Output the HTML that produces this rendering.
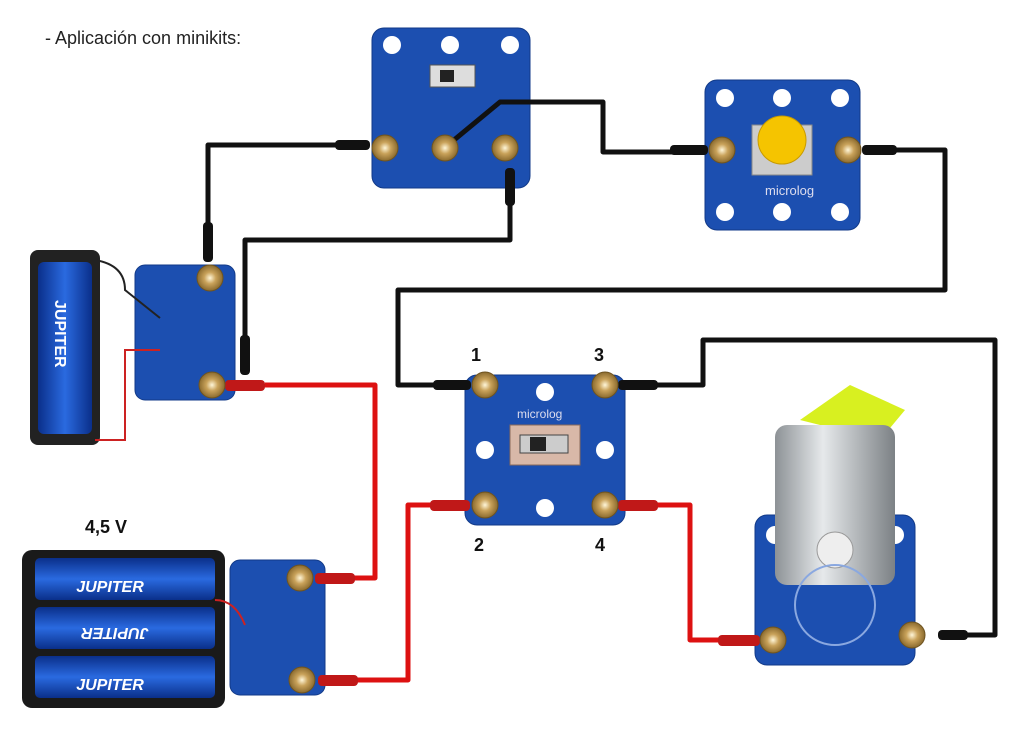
<!DOCTYPE html>
<html><head><meta charset="utf-8"><style>
body{margin:0;background:#fff;width:1024px;height:728px;overflow:hidden;font-family:"Liberation Sans",sans-serif}
</style></head><body>
<svg width="1024" height="728" viewBox="0 0 1024 728" xmlns="http://www.w3.org/2000/svg">
<defs>
<radialGradient id="gold" cx="50%" cy="50%" r="50%"><stop offset="0" stop-color="#fff6d8"/><stop offset="0.45" stop-color="#c9a25a"/><stop offset="1" stop-color="#8a6a2e"/></radialGradient>
<linearGradient id="silver" x1="0" x2="1"><stop offset="0" stop-color="#8d9296"/><stop offset="0.4" stop-color="#e6e9eb"/><stop offset="1" stop-color="#7c8185"/></linearGradient>
<linearGradient id="cell" x1="0" x2="0" y1="0" y2="1"><stop offset="0" stop-color="#0a2f8a"/><stop offset="0.5" stop-color="#2a6ae0"/><stop offset="1" stop-color="#0a2f8a"/></linearGradient>
<linearGradient id="cellv" x1="0" x2="1"><stop offset="0" stop-color="#0a2f8a"/><stop offset="0.5" stop-color="#2a6ae0"/><stop offset="1" stop-color="#0a2f8a"/></linearGradient>
</defs>
<text x="45" y="44" font-size="18" fill="#222">- Aplicación con minikits:</text>
<text x="85" y="533" font-size="18" font-weight="bold" fill="#111">4,5 V</text>
<g font-size="18" font-weight="bold" fill="#111">
<text x="471" y="361">1</text><text x="594" y="361">3</text><text x="474" y="551">2</text><text x="595" y="551">4</text></g>

<!-- boards -->
<g fill="#1c4fb0" stroke="#123a88" stroke-width="1">
<rect x="372" y="28" width="158" height="160" rx="12"/>
<rect x="705" y="80" width="155" height="150" rx="12"/>
<rect x="135" y="265" width="100" height="135" rx="10"/>
<rect x="465" y="375" width="160" height="150" rx="12"/>
<rect x="230" y="560" width="95" height="135" rx="10"/>
<rect x="755" y="515" width="160" height="150" rx="12"/>
</g>
<!-- holes -->
<g fill="#fff">
<circle cx="392" cy="45" r="9"/><circle cx="450" cy="45" r="9"/><circle cx="510" cy="45" r="9"/>
<circle cx="725" cy="98" r="9"/><circle cx="782" cy="98" r="9"/><circle cx="840" cy="98" r="9"/>
<circle cx="725" cy="212" r="9"/><circle cx="782" cy="212" r="9"/><circle cx="840" cy="212" r="9"/>
<circle cx="545" cy="392" r="9"/><circle cx="485" cy="450" r="9"/><circle cx="605" cy="450" r="9"/><circle cx="545" cy="508" r="9"/>
<circle cx="775" cy="535" r="9"/><circle cx="895" cy="535" r="9"/>
</g>
<!-- switch bodies -->
<rect x="430" y="65" width="45" height="22" fill="#ddd" stroke="#555"/><rect x="440" y="70" width="14" height="12" fill="#222"/>
<rect x="510" y="425" width="70" height="40" fill="#d8b8a8" stroke="#8a6a5a"/><rect x="520" y="435" width="48" height="18" fill="#ccc" stroke="#444"/><rect x="530" y="437" width="16" height="14" fill="#222"/>
<!-- button -->
<rect x="752" y="125" width="60" height="50" fill="#ccc" stroke="#888"/><circle cx="782" cy="140" r="24" fill="#f5c400" stroke="#c79a00"/>
<text x="765" y="195" font-size="13" fill="#dde">microlog</text>
<text x="517" y="418" font-size="12" fill="#dde">microlog</text>
<!-- batteries -->
<rect x="30" y="250" width="70" height="195" rx="8" fill="#222"/>
<rect x="38" y="262" width="54" height="172" rx="6" fill="url(#cellv)"/>
<text x="55" y="300" font-size="16" font-weight="bold" fill="#fff" transform="rotate(90 55 300)">JUPITER</text>
<path d="M95 260 Q125 265 125 290 L160 318" fill="none" stroke="#222" stroke-width="2"/>
<path d="M95 440 L125 440 L125 350 L160 350" fill="none" stroke="#c22" stroke-width="2"/>
<rect x="22" y="550" width="203" height="158" rx="10" fill="#1a1a1a"/>
<rect x="35" y="558" width="180" height="42" rx="5" fill="url(#cell)"/>
<rect x="35" y="607" width="180" height="42" rx="5" fill="url(#cell)"/>
<rect x="35" y="656" width="180" height="42" rx="5" fill="url(#cell)"/>
<g font-size="16" font-weight="bold" font-style="italic" fill="#fff" text-anchor="middle"><text x="110" y="592">JUPITER</text><text x="110" y="690">JUPITER</text><text x="115" y="640" transform="rotate(180 115 634)">JUPITER</text></g>
<path d="M215 600 Q235 600 245 625" fill="none" stroke="#c22" stroke-width="2"/>
<!-- motor -->
<path d="M800 420 L850 385 L905 410 L880 440 L840 430 Z" fill="#d8f020"/>
<rect x="775" y="425" width="120" height="160" rx="12" fill="url(#silver)"/>
<circle cx="835" cy="550" r="18" fill="#eee" stroke="#999"/>
<circle cx="835" cy="605" r="40" fill="none" stroke="#8aa8e0" stroke-width="2"/>
<!-- wires -->
<g fill="none" stroke-width="5" stroke-linejoin="round">
<path d="M340 145 H208 V235" stroke="#111"/>
<path d="M510 190 V240 H245 V345" stroke="#111"/>
<path d="M448 145 L500 102 H603 V152 H690" stroke="#111"/>
<path d="M880 150 H945 V290 H398 V385 H445" stroke="#111"/>
<path d="M655 385 H703 V340 H995 V635 H955" stroke="#111"/>
<path d="M265 385 H375 V578 H330" stroke="#d11"/>
<path d="M340 680 H408 V505 H445" stroke="#d11"/>
<path d="M655 505 H690 V640 H730" stroke="#d11"/>
</g>
<!-- plugs -->
<g fill="#111">
<rect x="335" y="140" width="35" height="10" rx="4"/><rect x="203" y="222" width="10" height="40" rx="4"/>
<rect x="505" y="168" width="10" height="38" rx="4"/><rect x="240" y="335" width="10" height="40" rx="4"/>
<rect x="670" y="145" width="38" height="10" rx="4"/><rect x="862" y="145" width="35" height="10" rx="4"/>
<rect x="433" y="380" width="38" height="10" rx="4"/><rect x="618" y="380" width="40" height="10" rx="4"/>
<rect x="938" y="630" width="30" height="10" rx="4"/>
</g>
<g fill="#c01818">
<rect x="225" y="380" width="40" height="11" rx="4"/><rect x="315" y="573" width="40" height="11" rx="4"/>
<rect x="318" y="675" width="40" height="11" rx="4"/><rect x="430" y="500" width="40" height="11" rx="4"/>
<rect x="618" y="500" width="40" height="11" rx="4"/><rect x="718" y="635" width="42" height="11" rx="4"/>
</g>
<!-- terminals -->
<g fill="url(#gold)" stroke="#6e531f">
<circle cx="385" cy="148" r="13"/><circle cx="445" cy="148" r="13"/><circle cx="505" cy="148" r="13"/>
<circle cx="722" cy="150" r="13"/><circle cx="848" cy="150" r="13"/>
<circle cx="210" cy="278" r="13"/><circle cx="212" cy="385" r="13"/>
<circle cx="485" cy="385" r="13"/><circle cx="605" cy="385" r="13"/><circle cx="485" cy="505" r="13"/><circle cx="605" cy="505" r="13"/>
<circle cx="300" cy="578" r="13"/><circle cx="302" cy="680" r="13"/>
<circle cx="773" cy="640" r="13"/><circle cx="912" cy="635" r="13"/>
</g>
</svg>
</body></html>
